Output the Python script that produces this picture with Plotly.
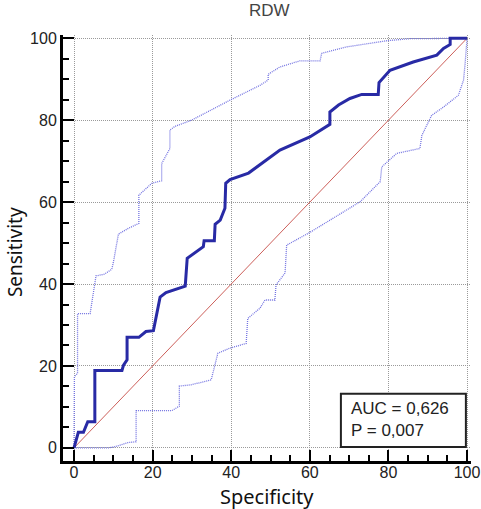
import plotly.graph_objects as go

# Main ROC curve
roc_x = [0, 1.1, 2.4, 3.5, 5.3, 5.3, 12.2, 12.6, 13.5, 13.5, 16.5, 18.3, 20.2, 21.9, 23.4, 28.3, 28.8, 32.9, 33.1,
         35.7, 35.9, 37.2, 38.4, 38.6, 39.7, 44.4, 52.4, 60.0, 65.1, 65.1, 67.3, 70.2, 73.2, 77.4, 77.6, 80.4,
         86.3, 92.3, 94.0, 95.7, 95.7, 100]
roc_y = [0, 3.8, 3.8, 6.4, 6.4, 18.9, 18.9, 20.2, 21.5, 27.0, 27.0, 28.4, 28.6, 36.8, 37.9, 39.5, 46.3, 49.1, 50.6,
         50.6, 54.6, 55.6, 58.5, 64.6, 65.5, 67.1, 72.7, 75.9, 79.0, 82.0, 83.7, 85.3, 86.3, 86.3, 89.2, 92.2,
         94.2, 95.9, 97.5, 98.5, 100, 100]

upper_x = [0, 0, 0.1, 0.9, 0.9, 4.1, 5.6, 7.7, 9.6, 10.0, 11.3, 13.8, 16.5, 16.5, 19.8, 22.3, 22.3, 24.4, 24.4,
           25.7, 29.9, 39.7, 47.3, 49.4, 49.4, 52.4, 57.5, 62.6, 63.0, 69.4, 79.6, 85.5, 100]
upper_y = [0, 6.8, 17.4, 18.2, 32.8, 32.8, 42.0, 42.4, 43.6, 45.2, 52.2, 53.6, 54.8, 61.7, 64.6, 65.2, 69.4, 73.1,
           77.6, 78.5, 80.0, 84.9, 88.5, 89.8, 91.2, 93.0, 94.5, 94.5, 96.3, 97.9, 99.4, 99.9, 100]

lower_x = [0, 9.0, 11.5, 13.7, 15.8, 15.8, 24.9, 26.8, 26.8, 29.8, 34.9, 36.6, 39.5, 43.8, 44.2, 47.3, 48.6, 51.1,
           51.4, 53.7, 54.1, 57.5, 60.0, 72.8, 77.9, 78.3, 82.1, 88.0, 88.5, 91.0, 94.0, 97.8, 99.1, 99.5, 100]
lower_y = [0, 0, 0.6, 1.3, 1.5, 9.1, 9.1, 10.2, 15.1, 15.4, 16.6, 23.1, 24.3, 25.5, 31.6, 34.1, 36.1, 36.1,
           39.8, 42.7, 49.5, 51.4, 52.6, 60.1, 65.0, 68.6, 71.9, 73.1, 76.3, 81.2, 83.2, 86.1, 89.8, 93.8, 100]

diag = [0, 100]
tick_vals = [0, 20, 40, 60, 80, 100]
auc_text = "AUC = 0,626"
p_text = "P = 0,007"
x_title = "Specificity"
y_title = "Sensitivity"

x_range = [-2.8, 101]
y_range = [-3.2, 100.8]

fig = go.Figure()
fig.add_trace(go.Scatter(x=diag, y=diag, mode="lines",
                         line=dict(color="rgb(205,95,90)", width=1)))
fig.add_trace(go.Scatter(x=upper_x, y=upper_y, mode="lines",
                         line=dict(color="rgb(115,115,225)", width=1.3, dash="1px,1px")))
fig.add_trace(go.Scatter(x=lower_x, y=lower_y, mode="lines",
                         line=dict(color="rgb(115,115,225)", width=1.3, dash="1px,1px")))
fig.add_trace(go.Scatter(x=roc_x, y=roc_y, mode="lines",
                         line=dict(color="rgb(40,42,165)", width=3)))

tickfont = dict(family="Liberation Sans, Arial", size=16, color="#222")

axis_common = dict(
    tickvals=tick_vals,
    showgrid=True, gridcolor="#9a9a9a", gridwidth=1, griddash="1px,1px",
    zeroline=False,
    showline=True, linecolor="black", linewidth=3,
    ticks="inside", ticklen=11, tickwidth=2, tickcolor="black",
    minor=dict(dtick=5, ticks="inside", ticklen=6, tickwidth=1.5, tickcolor="black", showgrid=False),
    tickfont=tickfont,
    fixedrange=True,
    automargin=False,
)

fig.update_xaxes(range=x_range, showticklabels=False, **axis_common)
fig.update_yaxes(range=y_range, **axis_common)

# separate label-only axis so the x tick labels sit closer to the axis line
fig.update_layout(xaxis2=dict(overlaying="x", anchor="free", position=0.0, side="bottom",
                              range=x_range, tickvals=tick_vals, showgrid=False, zeroline=False,
                              showline=False, ticks="", tickfont=tickfont, automargin=False,
                              fixedrange=True))
fig.add_trace(go.Scatter(x=[], y=[], xaxis="x2", yaxis="y", showlegend=False))

# axis titles as annotations for exact placement
fig.add_annotation(xref="paper", yref="paper", x=0.5, y=-0.083, text=x_title, showarrow=False,
                   xanchor="center", yanchor="middle",
                   font=dict(family="Noto Sans", size=20, color="#111"))
fig.add_annotation(xref="paper", yref="paper", x=-0.118, y=0.49, text=y_title, showarrow=False,
                   textangle=-90, xanchor="center", yanchor="middle",
                   font=dict(family="Noto Sans", size=19, color="#111"))

fig.add_shape(type="rect", xref="x", yref="y", x0=67.9, x1=99.7, y0=0.2, y1=13.2,
              line=dict(color="#222", width=2), fillcolor="white", layer="above")
fig.add_annotation(xref="x", yref="y", x=70.0, y=9.5, text=auc_text, showarrow=False,
                   xanchor="left", yanchor="middle",
                   font=dict(family="Liberation Sans, Arial", size=17, color="#222"))
fig.add_annotation(xref="x", yref="y", x=70.0, y=4.2, text=p_text, showarrow=False,
                   xanchor="left", yanchor="middle",
                   font=dict(family="Liberation Sans, Arial", size=17, color="#222"))

fig.update_layout(
    width=481, height=509,
    margin=dict(l=63, r=10, t=35, b=48),
    paper_bgcolor="white", plot_bgcolor="white",
    showlegend=False,
    title=dict(text="RDW", x=0.56, xanchor="center", y=0.98, yanchor="middle",
               font=dict(family="Liberation Sans, Arial", size=17, color="#444")),
)

fig.write_html("out.html")
